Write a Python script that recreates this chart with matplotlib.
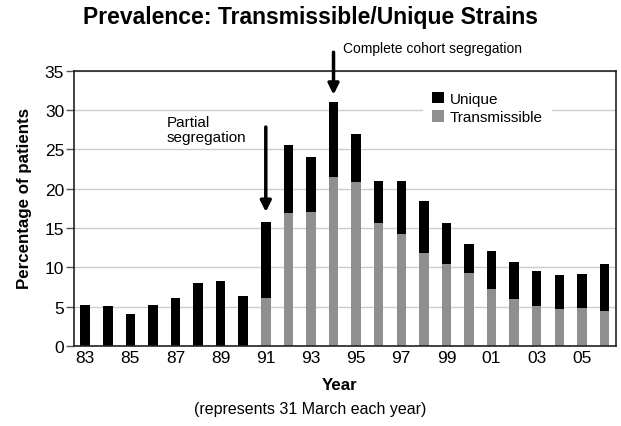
import numpy as np
import matplotlib
matplotlib.use('Agg')
from matplotlib import pyplot as plt

plt.rcParams['font.family'] = ['Liberation Sans', 'DejaVu Sans']

# 年份标签与数值
years = ['83', '84', '85', '86', '87', '88', '89', '90', '91', '92', '93', '94',
         '95', '96', '97', '98', '99', '00', '01', '02', '03', '04', '05', '06']
total = [5.2, 5.15, 4.05, 5.2, 6.1, 8.0, 8.3, 6.4, 15.8, 25.5, 24.1, 31.0,
         27.0, 21.05, 21.05, 18.4, 15.6, 13.0, 12.1, 10.75, 9.5, 9.1, 9.2, 10.4]
transmissible = [0, 0, 0, 0, 0, 0, 0, 0, 6.1, 16.95, 17.1, 21.5,
                 20.9, 15.7, 14.2, 11.9, 10.4, 9.35, 7.3, 6.0, 5.05, 4.7, 4.9, 4.5]
unique = [t - s for t, s in zip(total, transmissible)]

x = np.arange(len(years))

fig = plt.figure(figsize=(6.21, 4.27), dpi=100)
ax = fig.add_axes([0.119, 0.187, 0.8725, 0.645])

ax.bar(x, transmissible, width=0.42, color='#8f8f8f', label='Transmissible', zorder=2)
ax.bar(x, unique, width=0.42, bottom=transmissible, color='#000000', label='Unique', zorder=2)

ax.set_xlim(-0.5, 23.5)
ax.set_ylim(0, 35)
ax.set_yticks(range(0, 36, 5))
ax.yaxis.grid(True, color='#cccccc', linewidth=1, zorder=0)
ax.set_xticks(x[::2])
ax.set_xticklabels(years[::2])
ax.tick_params(axis='x', length=0, labelsize=12.5, pad=3)
ax.tick_params(axis='y', length=6, width=1, color='#555555', labelsize=12.5, pad=1)
for s in ax.spines.values():
    s.set_color('#222222')
    s.set_linewidth(1.2)

ax.set_ylabel('Percentage of patients', fontsize=12.2, fontweight='bold')
ax.yaxis.set_label_coords(-0.078, 0.54)
ax.set_xlabel('Year', fontsize=12.2, fontweight='bold')
ax.xaxis.set_label_coords(0.49, -0.112)
fig.text(0.5, 0.04, '(represents 31 March each year)', ha='center', va='center', fontsize=11.5)
fig.text(0.5, 0.96, 'Prevalence: Transmissible/Unique Strains', ha='center', va='center',
         fontsize=16.5, fontweight='bold')

# 图例：先Unique后Transmissible
h, l = ax.get_legend_handles_labels()
leg = ax.legend([h[1], h[0]], [l[1], l[0]], loc='upper left', bbox_to_anchor=(0.63, 0.985),
                frameon=True, fontsize=11, handlelength=0.75, handleheight=0.75,
                handletextpad=0.4, labelspacing=0.3, borderpad=0.6)
leg.get_frame().set_edgecolor('none')
leg.get_frame().set_facecolor('white')
leg.get_frame().set_alpha(1)

# 箭头标注
ax.annotate('', xy=(8, 16.7), xytext=(8, 28.2),
            arrowprops=dict(arrowstyle='-|>', color='black', lw=2.5, mutation_scale=16))
ax.text(3.62, 27.5, 'Partial\nsegregation', ha='left', va='center', fontsize=11, linespacing=1.05)
ax.annotate('', xy=(11, 31.6), xytext=(11, 37.7),
            arrowprops=dict(arrowstyle='-|>', color='black', lw=2.5, mutation_scale=16),
            annotation_clip=False)
ax.text(11.4, 37.9, 'Complete cohort segregation', ha='left', va='center', fontsize=10,
        clip_on=False)

plt.savefig('out.png', dpi=100)
